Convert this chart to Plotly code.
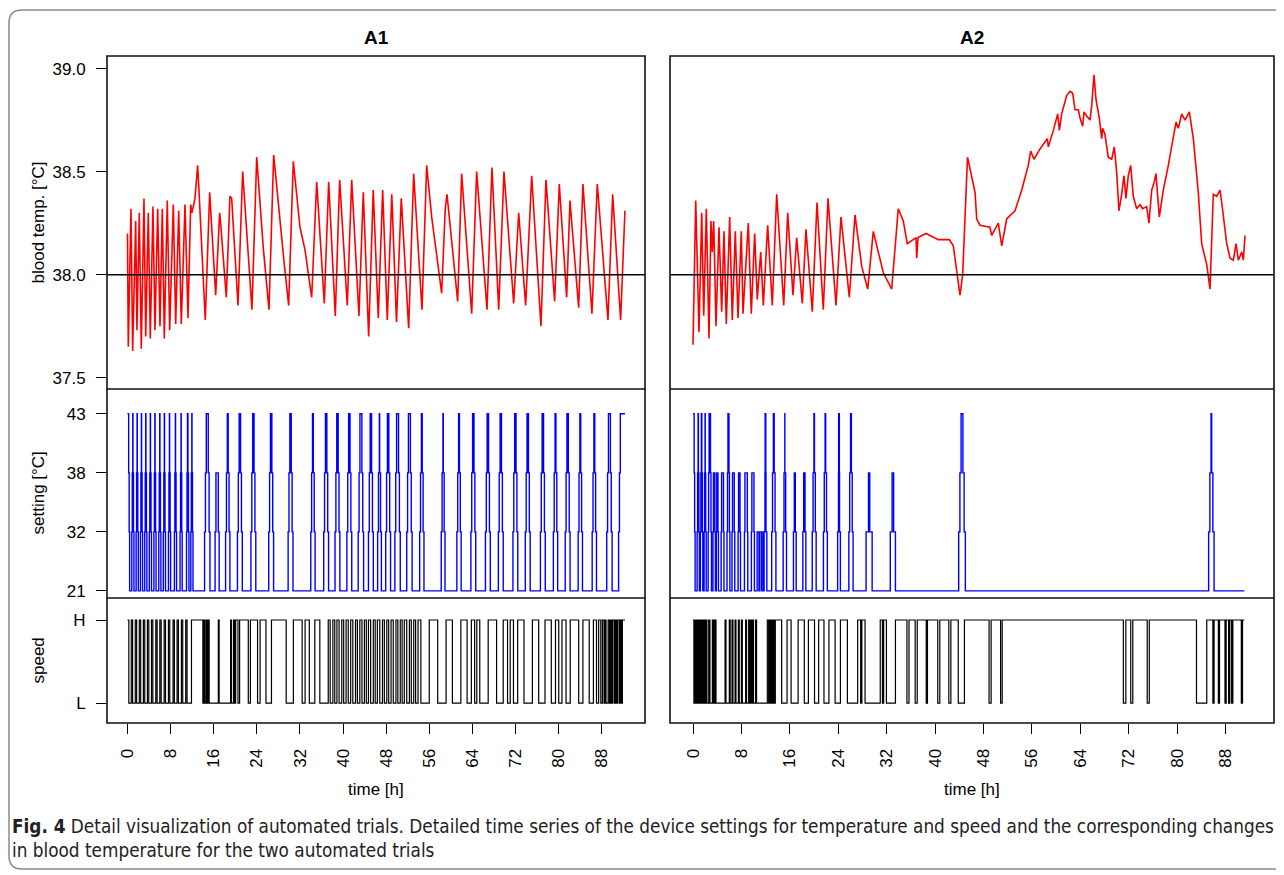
import plotly.graph_objects as go

# ---------------- data ----------------
a1_temp_t = [0.0, 0.15, 0.65, 0.96, 1.52, 1.76, 2.19, 2.56, 3.06, 3.38, 3.86, 4.23, 4.73, 5.10, 5.60, 6.03,
             6.46, 6.83, 7.38, 7.83, 8.50, 8.94, 9.50, 9.98, 10.67, 11.22, 11.72, 11.96, 12.52, 13.02, 13.26,
             14.43, 15.25, 16.36, 17.10, 17.34, 18.33, 19.01, 19.33, 20.50, 21.37, 23.09, 23.97, 25.19, 26.25,
             27.12, 29.09, 29.90, 30.76, 32.00, 32.93, 34.17, 35.10, 36.51, 37.32, 38.55, 39.36, 40.77, 41.59,
             42.94, 43.74, 44.74, 45.59, 46.52, 47.34, 48.19, 49.03, 49.90, 50.79, 52.16, 53.09, 54.63, 55.50,
             56.43, 58.28, 58.95, 59.27, 61.25, 61.99, 63.85, 64.77, 66.69, 67.61, 68.86, 69.84, 71.64, 72.57,
             73.86, 74.98, 76.70, 77.63, 79.24, 80.10, 81.47, 82.08, 83.69, 84.49, 86.16, 87.15, 89.13, 90.00,
             91.48, 92.28]
a1_temp_v = [38.20, 37.65, 38.32, 37.63, 38.26, 37.73, 38.30, 37.64, 38.37, 37.70, 38.30, 37.69, 38.33, 37.73,
             38.32, 37.75, 38.32, 37.69, 38.36, 37.73, 38.34, 37.76, 38.31, 37.76, 38.34, 37.79, 38.34, 38.30,
             38.37, 38.53, 38.41, 37.78, 38.40, 37.90, 38.30, 38.23, 37.89, 38.38, 38.37, 37.85, 38.50, 37.83,
             38.57, 38.13, 37.83, 38.58, 38.05, 37.85, 38.55, 38.23, 38.12, 37.89, 38.45, 37.86, 38.45, 37.80,
             38.46, 37.85, 38.46, 37.80, 38.40, 37.70, 38.41, 37.79, 38.41, 37.78, 38.39, 37.77, 38.37, 37.74,
             38.49, 37.83, 38.53, 38.28, 37.91, 38.32, 38.39, 37.87, 38.49, 37.81, 38.50, 37.83, 38.52, 37.83,
             38.50, 37.86, 38.30, 37.85, 38.48, 37.75, 38.46, 37.87, 38.44, 37.89, 38.36, 37.84, 38.44, 37.81,
             38.44, 37.78, 38.39, 37.78, 38.31]

a2_temp_t = [0.0, 0.45, 0.99, 1.44, 1.77, 2.20, 2.64, 2.97, 3.19, 3.42, 3.80, 4.30, 4.74, 5.12, 5.50, 6.06,
             6.49, 6.99, 7.44, 7.98, 8.26, 9.14, 9.63, 10.19, 10.62, 11.19, 11.62, 12.34, 13.10, 13.83, 14.99,
             15.65, 16.52, 17.13, 18.06, 18.67, 19.71, 20.49, 21.53, 22.31, 23.63, 24.45, 25.83, 26.77, 27.88,
             28.87, 29.79, 31.44, 32.83, 33.92, 34.75, 35.41, 36.85, 36.96, 37.18, 38.50, 40.53, 42.35, 43.01,
             44.12, 44.56, 45.36, 46.60, 46.88, 47.42, 49.07, 49.35, 50.45, 51.01, 51.83, 53.21, 54.31, 55.40,
             55.80, 56.34, 57.34, 58.54, 58.71, 59.54, 60.26, 60.53, 60.92, 61.75, 62.29, 62.74, 63.12, 63.67,
             63.95, 64.39, 64.61, 65.05, 65.60, 65.88, 66.26, 66.59, 67.13, 67.53, 67.69, 68.07, 68.62, 69.18,
             69.61, 70.00, 70.38, 70.83, 71.21, 71.54, 71.92, 72.32, 72.75, 73.31, 73.85, 74.30, 74.96, 75.34,
             75.79, 76.22, 76.50, 77.05, 77.71, 78.54, 79.36, 79.81, 80.19, 80.75, 81.30, 82.01, 82.67, 83.11,
             83.49, 84.05, 84.88, 85.43, 85.97, 86.53, 87.08, 87.36, 88.19, 88.74, 89.28, 89.73, 90.11, 90.67,
             90.94, 91.21]
a2_temp_v = [37.66, 38.36, 37.72, 38.30, 37.80, 38.32, 37.69, 38.26, 38.11, 38.26, 37.75, 38.23, 37.82, 38.21,
             37.76, 38.28, 37.78, 38.21, 37.79, 38.21, 37.81, 38.25, 37.81, 38.20, 37.88, 38.11, 37.85, 38.24,
             37.85, 38.39, 37.85, 38.30, 37.90, 38.18, 37.86, 38.22, 37.82, 38.35, 37.83, 38.37, 37.85, 38.28,
             37.89, 38.29, 38.04, 37.93, 38.21, 38.01, 37.93, 38.32, 38.26, 38.15, 38.18, 38.08, 38.18, 38.20,
             38.17, 38.17, 38.14, 37.90, 38.00, 38.57, 38.40, 38.27, 38.24, 38.23, 38.19, 38.25, 38.14, 38.27,
             38.31, 38.41, 38.53, 38.60, 38.56, 38.61, 38.66, 38.62, 38.70, 38.78, 38.70, 38.78, 38.87, 38.89,
             38.88, 38.80, 38.80, 38.76, 38.72, 38.79, 38.77, 38.75, 38.82, 38.97, 38.85, 38.76, 38.66, 38.71,
             38.68, 38.57, 38.56, 38.62, 38.50, 38.31, 38.39, 38.48, 38.37, 38.48, 38.53, 38.38, 38.32, 38.34,
             38.32, 38.33, 38.25, 38.41, 38.45, 38.49, 38.28, 38.41, 38.53, 38.67, 38.74, 38.71, 38.78, 38.75,
             38.79, 38.66, 38.53, 38.40, 38.15, 38.05, 37.93, 38.39, 38.38, 38.41, 38.35, 38.15, 38.08, 38.07,
             38.15, 38.07, 38.11, 38.07, 38.19]

setting_levels = ["21", "32", "38", "43"]
speed_levels = ["L", "H"]

# heating pulses: start, end (None = still on at the end), highest setting reached, step length (h)
a1_pulse_start = [0.0, 0.8, 1.6, 2.4, 3.2, 4.05, 4.9, 5.8, 6.65, 7.6, 8.7, 9.75, 10.95, 11.75,
                  14.3, 16.25, 18.2, 20.4, 22.9, 26.2, 29.8, 34.0, 36.4, 38.5, 40.7, 42.8, 44.7, 46.4,
                  47.9, 49.6, 51.8, 54.2, 58.2, 61.1, 63.7, 66.4, 68.8, 71.5, 73.8, 76.6, 79.0, 81.2,
                  83.6, 86.2, 88.9, 91.1]
a1_pulse_end = [0.4, 1.2, 2.0, 2.8, 3.6, 4.45, 5.3, 6.2, 7.05, 8.0, 9.1, 10.15, 11.4, 12.15,
                15.3, 17.0, 19.0, 21.3, 23.8, 27.1, 30.7, 34.8, 37.3, 39.4, 41.6, 43.8, 45.6, 47.1,
                48.8, 50.6, 52.8, 55.0, 58.9, 61.9, 64.6, 67.3, 69.7, 72.4, 74.7, 77.5, 79.8, 82.1,
                84.4, 87.0, 89.9, None]
a1_pulse_peak = ["43"] * 14 + ["43", "38"] + ["43"] * 30
a1_pulse_step = [0.09] * 14 + [0.16] * 32
a1_end_t = 92.3

a2_pulse_start = [0.0, 0.68, 1.22, 1.83, 2.5, 3.3, 3.85, 4.65, 5.62, 6.45, 7.45, 8.5, 9.65, 10.6, 11.0,
                  11.35, 11.75, 13.0, 14.9, 16.6, 18.15, 19.7, 21.55, 23.9, 25.75, 28.6, 32.6, 43.9, 85.2]
a2_pulse_end = [0.35, 1.05, 1.62, 2.18, 3.05, 3.7, 4.2, 5.12, 6.1, 6.9, 7.85, 9.05, 10.15, 10.9, 11.3,
                11.6, 12.2, 13.7, 15.45, 17.05, 18.65, 20.35, 22.2, 24.35, 26.45, 29.6, 33.45, 45.0, 86.1]
a2_pulse_peak = ["43", "43", "43", "43", "43", "38", "38", "38", "43", "38", "38", "38", "38", "32", "32",
                 "32", "43", "43", "43", "38", "38", "43", "43", "43", "43", "38", "38", "43", "43"]
a2_pulse_step = [0.08] * 13 + [0.1] * 3 + [0.14] * 9 + [0.4, 0.3, 0.2, 0.2]
a2_end_t = 91.1

# speed: intervals spent at high speed (H); low speed (L) otherwise
a1_high_start = [0.0, 0.7, 1.45, 2.2, 2.95, 3.7, 4.45, 5.25, 6.0, 6.8, 7.6, 8.45, 9.2, 10.0, 10.8,
                 11.87, 14.2, 14.6, 14.95, 16.85, 19.13, 19.68, 20.07, 20.8, 22.8, 24.6, 26.71, 30.77,
                 32.95, 34.75, 37.24, 38.1, 38.85, 39.75, 40.55, 41.4, 42.3, 43.1, 43.95, 44.7, 45.6,
                 46.35, 47.3, 48.1, 48.9, 49.8, 50.6, 51.35, 52.3, 53.1, 53.9, 55.98, 59.1, 61.84, 63.79,
                 64.8, 66.91, 69.7, 71.0, 72.38, 75.11, 77.45, 79.4, 80.6, 82.13, 84.48, 86.43, 87.4,
                 88.1, 88.6, 89.16, 89.6, 90.0, 90.5, 90.9, 91.4, 91.8]
a1_high_end = [0.25, 0.95, 1.7, 2.45, 3.2, 3.95, 4.7, 5.5, 6.25, 7.05, 7.85, 8.7, 9.45, 10.25, 11.05,
               13.98, 14.35, 14.8, 15.15, 17.0, 19.3, 19.85, 20.5, 22.41, 24.13, 25.69, 29.44, 32.4,
               33.73, 35.68, 37.6, 38.45, 39.25, 40.1, 40.95, 41.8, 42.65, 43.5, 44.3, 45.1, 45.95,
               46.8, 47.65, 48.45, 49.3, 50.15, 50.95, 51.8, 52.65, 53.45, 54.42, 57.54, 60.27, 63.0,
               64.4, 65.35, 68.47, 70.5, 71.6, 73.55, 76.28, 78.62, 80.0, 81.35, 83.7, 85.65, 87.0,
               87.8, 88.4, 88.77, 89.4, 89.8, 90.3, 90.7, 91.2, 91.6, 92.3]

a2_high_start = [0.0, 0.35, 0.7, 1.05, 1.4, 1.75, 2.1, 2.6, 3.2, 3.6, 5.3, 6.0, 6.45, 6.95, 7.5, 8.0, 8.7,
                 9.2, 9.5, 9.85, 10.35, 12.28, 12.6, 12.9, 13.2, 13.6, 15.54, 17.37, 19.07, 20.76, 22.46,
                 24.36, 27.21, 27.9, 30.94, 31.5, 33.45, 35.69, 37.05, 38.74, 40.78, 42.61, 44.85, 49.26,
                 51.09, 71.52, 72.67, 75.39, 84.89, 86.1, 87.0, 88.1, 88.7, 89.2, 90.8]
a2_high_end = [0.15, 0.5, 0.85, 1.2, 1.55, 1.9, 2.3, 2.8, 3.4, 3.8, 5.45, 6.15, 6.6, 7.1, 7.65, 8.15, 8.85,
               9.35, 9.65, 10.0, 10.5, 12.5, 12.8, 13.1, 13.4, 14.65, 16.21, 18.39, 20.08, 21.64, 23.48,
               25.51, 27.7, 28.43, 31.3, 31.96, 35.35, 36.71, 38.54, 40.44, 42.27, 43.83, 48.92, 50.82,
               71.11, 72.33, 75.05, 83.19, 85.9, 86.8, 87.9, 88.5, 89.0, 90.6, 91.1]

time_ticks = [0, 8, 16, 24, 32, 40, 48, 56, 64, 72, 80, 88]
temp_ticks = [37.5, 38.0, 38.5, 39.0]
temp_ref = 38.0

caption_1 = ("<b>Fig. 4</b> Detail visualization of automated trials. Detailed time series of the device "
             "settings for temperature and speed and the corresponding changes")
caption_2 = "in blood temperature for the two automated trials"


# ---------------- helpers ----------------
def setting_series(starts, ends, peaks, steps, t_end):
    ts, vs = [], []
    for s, e, p, st in zip(starts, ends, peaks, steps):
        lv = setting_levels[:setting_levels.index(p) + 1]
        if s <= 0:
            ts.append(0.0); vs.append(p)
        else:
            if not ts:
                ts.append(0.0); vs.append(setting_levels[0])
            for k, v in enumerate(lv[1:]):
                ts.append(s + k * st); vs.append(v)
        if e is None:
            continue
        downs = lv[:-1][::-1]
        for k, v in enumerate(downs):
            ts.append(e - (len(downs) - 1 - k) * st); vs.append(v)
    if ts[-1] < t_end:
        ts.append(t_end); vs.append(vs[-1])
    return ts, vs


def speed_series(starts, ends, t_end):
    ts, vs = [], []
    if starts[0] > 0:
        ts.append(0.0); vs.append("L")
    for s, e in zip(starts, ends):
        ts.append(s); vs.append("H")
        ts.append(min(e, t_end)); vs.append("L" if e < t_end else "H")
    if ts[-1] < t_end:
        ts.append(t_end); vs.append(vs[-1])
    return ts, vs


a1_set_t, a1_set_v = setting_series(a1_pulse_start, a1_pulse_end, a1_pulse_peak, a1_pulse_step, a1_end_t)
a2_set_t, a2_set_v = setting_series(a2_pulse_start, a2_pulse_end, a2_pulse_peak, a2_pulse_step, a2_end_t)
a1_spd_t, a1_spd_v = speed_series(a1_high_start, a1_high_end, a1_end_t)
a2_spd_t, a2_spd_v = speed_series(a2_high_start, a2_high_end, a2_end_t)

# ---------------- geometry (reference pixels; the page adds an 8 px body margin) ----------------
OFF = 8
FW, FH = 1284 - OFF, 875 - OFF


def px(X):
    return (X - OFF) / FW


def py(Y):
    return 1 - (Y - OFF) / FH


cols = [(107, 645), (670, 1274)]
rows = [(56, 389), (389, 598), (598, 723)]

FONT = "Liberation Sans, Arial, Helvetica, sans-serif"
fig = go.Figure()

series = [
    (a1_temp_t, a1_temp_v, "#ff0000", 1.6, "linear", 0, 0),
    (a1_set_t, a1_set_v, "#0000ff", 1.4, "hv", 0, 1),
    (a1_spd_t, a1_spd_v, "black", 1.2, "hv", 0, 2),
    (a2_temp_t, a2_temp_v, "#ff0000", 1.6, "linear", 1, 0),
    (a2_set_t, a2_set_v, "#0000ff", 1.4, "hv", 1, 1),
    (a2_spd_t, a2_spd_v, "black", 1.2, "hv", 1, 2),
]

layout = dict(width=FW, height=FH, margin=dict(l=0, r=0, t=0, b=0), showlegend=False,
              paper_bgcolor="white", plot_bgcolor="white",
              font=dict(family=FONT, size=17, color="black"))

xr = [-3.8, 96.0]
yranges = [[37.445, 39.061], [-0.12, 3.42], [-0.24, 1.265]]

for i, (xs, ys, col, lw, shape, c, r) in enumerate(series):
    n = i + 1
    xa = "x" if n == 1 else f"x{n}"
    ya = "y" if n == 1 else f"y{n}"
    fig.add_trace(go.Scatter(x=xs, y=ys, mode="lines", line=dict(color=col, width=lw, shape=shape),
                             xaxis=xa, yaxis=ya, hoverinfo="skip"))
    xkey = "xaxis" if n == 1 else f"xaxis{n}"
    ykey = "yaxis" if n == 1 else f"yaxis{n}"
    bottom = (r == 2)
    layout[xkey] = dict(domain=[px(cols[c][0]), px(cols[c][1])], range=xr, anchor=ya,
                        showgrid=False, zeroline=False, automargin=False, showline=False,
                        tickmode="array", tickvals=time_ticks if bottom else [],
                        ticktext=[str(t) for t in time_ticks] if bottom else [],
                        ticks="outside" if bottom else "", ticklen=10, tickwidth=1.3, tickcolor="black",
                        tickangle=-90, showticklabels=bottom, ticklabelstandoff=8,
                        tickfont=dict(size=17, family=FONT))
    ydict = dict(domain=[py(rows[r][1]), py(rows[r][0])], range=yranges[r], anchor=xa,
                 showgrid=False, zeroline=False, automargin=False, showline=False,
                 ticks="outside" if c == 0 else "", ticklen=10, tickwidth=1.3, tickcolor="black",
                 showticklabels=(c == 0), ticklabelstandoff=7, tickfont=dict(size=17, family=FONT))
    if r == 0:
        ydict.update(tickmode="array", tickvals=temp_ticks if c == 0 else [],
                     ticktext=[f"{v:.1f}" for v in temp_ticks] if c == 0 else [])
    elif r == 1:
        ydict.update(type="category", categoryorder="array", categoryarray=setting_levels,
                     tickmode="array", tickvals=setting_levels if c == 0 else [],
                     ticktext=setting_levels if c == 0 else [])
    else:
        ydict.update(type="category", categoryorder="array", categoryarray=speed_levels,
                     tickmode="array", tickvals=speed_levels if c == 0 else [],
                     ticktext=speed_levels if c == 0 else [])
    layout[ykey] = ydict

fig.update_layout(**layout)

# panel frames: outer box per column and single dividing lines between stacked panels
FRAME = dict(color="#111", width=1.6)
for c in range(2):
    x0, x1 = px(cols[c][0]), px(cols[c][1])
    fig.add_shape(type="rect", xref="paper", yref="paper", x0=x0, x1=x1, y0=py(rows[2][1]),
                  y1=py(rows[0][0]), line=FRAME, layer="above")
    for yb in (rows[0][1], rows[1][1]):
        fig.add_shape(type="line", xref="paper", yref="paper", x0=x0, x1=x1, y0=py(yb), y1=py(yb),
                      line=FRAME, layer="above")

# reference line at 38.0 in the blood temperature panels
for xa, ya in [("x", "y"), ("x4", "y4")]:
    fig.add_shape(type="line", xref=f"{xa} domain", yref=ya, x0=0, x1=1, y0=temp_ref, y1=temp_ref,
                  line=dict(color="black", width=1.5))

# panel titles and x-axis titles
for txt, c in [("A1", 0), ("A2", 1)]:
    cx = px((cols[c][0] + cols[c][1]) / 2)
    fig.add_annotation(text=f"<b>{txt}</b>", x=cx, y=py(37), xref="paper", yref="paper",
                       xanchor="center", yanchor="middle", showarrow=False,
                       font=dict(size=19, family=FONT))
    fig.add_annotation(text="time [h]", x=cx, y=py(789), xref="paper", yref="paper",
                       xanchor="center", yanchor="middle", showarrow=False,
                       font=dict(size=17, family=FONT))

# y-axis titles
for txt, r in [("blood temp. [°C]", 0), ("setting [°C]", 1), ("speed", 2)]:
    cy = py((rows[r][0] + rows[r][1]) / 2)
    fig.add_annotation(text=txt, x=px(38), y=cy, xref="paper", yref="paper", showarrow=False,
                       xanchor="center", yanchor="middle", textangle=-90,
                       font=dict(size=17, family=FONT))

# caption
CAP_FONT = "Liberation Sans Narrow, DejaVu Sans Condensed, Arial Narrow, sans-serif"
fig.add_annotation(text=caption_1, x=px(10), y=py(826), xref="paper", yref="paper", showarrow=False,
                   xanchor="left", yanchor="middle", font=dict(size=18.8, family=CAP_FONT, color="#222"))
fig.add_annotation(text=caption_2, x=px(10), y=py(850), xref="paper", yref="paper", showarrow=False,
                   xanchor="left", yanchor="middle", font=dict(size=18.8, family=CAP_FONT, color="#222"))


# rounded outer frame (open on the right, as in the cropped figure)
def P(X, Y):
    return f"{px(X):.5f},{py(Y):.5f}"


frame = (f"M {P(1300, 10)} L {P(22, 10)} Q {P(9, 10)} {P(9, 23)} L {P(9, 856)} "
         f"Q {P(9, 869)} {P(22, 869)} L {P(1300, 869)}")
fig.add_shape(type="path", path=frame, xref="paper", yref="paper", line=dict(color="#8a8a8a", width=1.5))

fig.write_html("out.html")
